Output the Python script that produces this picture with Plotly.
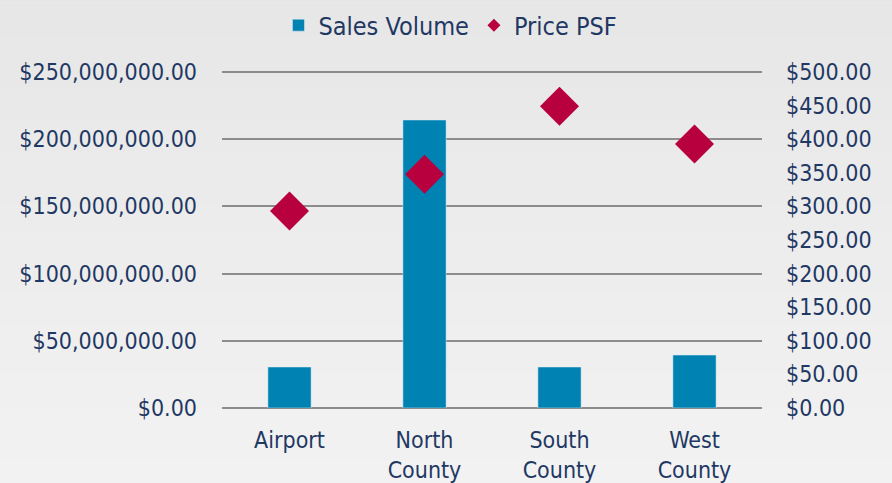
import plotly.graph_objects as go

categories = ["Airport", "North<br>County", "South<br>County", "West<br>County"]
sales_volume = [30500000, 214300000, 30500000, 39400000]
price_psf = [293, 348, 449, 393]

left_ticks = [0, 50000000, 100000000, 150000000, 200000000, 250000000]
left_labels = ["$0.00", "$50,000,000.00", "$100,000,000.00", "$150,000,000.00",
               "$200,000,000.00", "$250,000,000.00"]
right_ticks = list(range(0, 501, 50))
right_labels = ["$%d.00" % v for v in right_ticks]

text_color = "#1f3864"
font_family = "DejaVu Sans Condensed, DejaVu Sans"
fs = 23

fig = go.Figure()
fig.add_trace(go.Bar(
    x=categories, y=sales_volume, name="Sales Volume",
    marker=dict(color="#0083b3"), width=0.32, yaxis="y",
))
fig.add_trace(go.Scatter(
    x=categories, y=price_psf, name="Price PSF", mode="markers",
    marker=dict(symbol="diamond", size=30, color="#b8003e"), yaxis="y2",
    showlegend=False,
))
# legend entry with the small diamond used in the reference legend
fig.add_trace(go.Scatter(
    x=[None], y=[None], name="Price PSF", mode="markers",
    marker=dict(symbol="diamond", size=10, color="#b8003e"), yaxis="y2",
))

# background gradient bands
shapes = []
n = 40
for i in range(n):
    t = i / (n - 1)
    c = int(round(0xe6 + (0xf6 - 0xe6) * t))
    shapes.append(dict(type="rect", xref="paper", yref="paper",
                       x0=-1, x1=2, y0=1.3 - (i + 1) * 2.0 / n,
                       y1=1.3 - i * 2.0 / n,
                       fillcolor="rgb(%d,%d,%d)" % (c, c, c),
                       line=dict(width=0), layer="below"))

fig.update_layout(
    width=892, height=483,
    margin=dict(l=222, r=130, t=70, b=75, autoexpand=False),
    paper_bgcolor="#eeeeee",
    plot_bgcolor="rgba(0,0,0,0)",
    font=dict(family=font_family, size=fs, color=text_color),
    shapes=shapes,
    showlegend=True,
    legend=dict(orientation="h", x=0.505, xanchor="center", xref="container",
                y=0.995, yanchor="top", yref="container",
                font=dict(size=25, color=text_color),
                bgcolor="rgba(0,0,0,0)", itemsizing="trace", itemwidth=30,
                traceorder="normal"),
    bargap=0.68,
    xaxis=dict(showgrid=False, showline=False, ticks="", zeroline=False,
               ticklabelstandoff=16, automargin=False,
               tickfont=dict(size=fs, color=text_color)),
    yaxis=dict(range=[0, 251500000], tickvals=left_ticks, ticktext=left_labels,
               showgrid=True, gridcolor="#8c8c8c", gridwidth=2,
               zeroline=True, zerolinecolor="#8c8c8c", zerolinewidth=2,
               showline=False, ticks="", ticklabelstandoff=24, automargin=False,
               tickfont=dict(size=fs, color=text_color)),
    yaxis2=dict(range=[0, 503], tickvals=right_ticks, ticktext=right_labels,
                overlaying="y", side="right", showgrid=False, zeroline=False,
                showline=False, ticks="", ticklabelstandoff=23, automargin=False,
                tickfont=dict(size=fs, color=text_color)),
)

fig.write_html("out.html", config={"displayModeBar": False},
               post_script="document.body.style.margin='0';")
